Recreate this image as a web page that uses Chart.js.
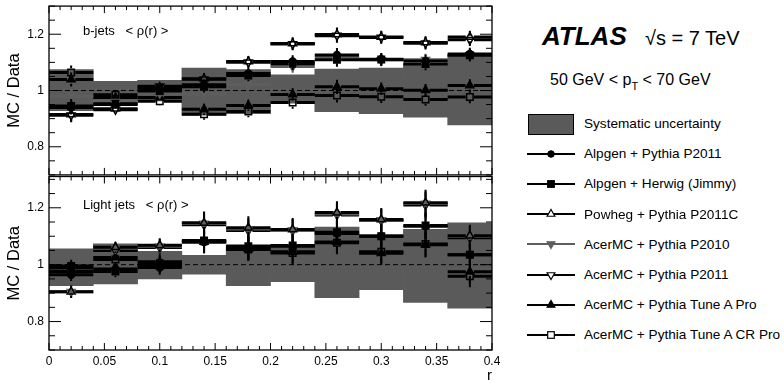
<!DOCTYPE html>
<html><head><meta charset="utf-8">
<script src="https://cdn.jsdelivr.net/npm/chart.js@4.4.1/dist/chart.umd.min.js"></script>
<style>
html,body{margin:0;padding:0;background:#fff;}
body{width:784px;height:385px;position:relative;overflow:hidden;font-family:"Liberation Sans",Arial,Helvetica,sans-serif;color:#000;}
.abs{position:absolute;white-space:pre;line-height:1;}
canvas{position:absolute;}
</style></head><body>
<canvas id="cTop" width="520" height="181" style="left:0;top:0"></canvas>
<canvas id="cBot" width="520" height="215" style="left:0;top:170px"></canvas>
<div class="abs" style="left:83px;top:24px;font-size:13px">b-jets   &lt; ρ(r) &gt;</div>
<div class="abs" style="left:83px;top:198px;font-size:13px">Light jets   &lt; ρ(r) &gt;</div>
<div class="abs" style="left:542px;top:23px;font-size:26px;font-weight:bold;font-style:italic">ATLAS</div>
<div class="abs" style="left:645px;top:28px;font-size:20px">√s = 7 TeV</div>
<div class="abs" style="left:550px;top:72px;font-size:16px">50 GeV &lt; p<span style="font-size:11px;position:relative;top:5px">T</span> &lt; 70 GeV</div>
<div id="legend"></div>
<script>
// ---------- data ----------
const rCenters = [0.02, 0.06, 0.10, 0.14, 0.18, 0.22, 0.26, 0.30, 0.34, 0.38];
const binHalfWidth = 0.02;
const xTickValues = [0, 0.05, 0.1, 0.15, 0.2, 0.25, 0.3, 0.35, 0.4];
const xTickLabels = ['0', '0.05', '0.1', '0.15', '0.2', '0.25', '0.3', '0.35', '0.4'];
const yTickValues = [0.8, 1, 1.2];
const yTickLabels = ['0.8', '1', '1.2'];

const systLabel = 'Systematic uncertainty';
const seriesNames = ['Alpgen + Pythia P2011', 'Alpgen + Herwig (Jimmy)', 'Powheg + Pythia P2011C',
  'AcerMC + Pythia P2010', 'AcerMC + Pythia P2011', 'AcerMC + Pythia Tune A Pro', 'AcerMC + Pythia Tune A CR Pro'];

// b-jets (upper panel)
const bSystLow  = [0.928, 0.965, 0.963, 0.912, 0.918, 0.955, 0.925, 0.918, 0.905, 0.878];
const bSystHigh = [1.074, 1.033, 1.036, 1.080, 1.074, 1.056, 1.076, 1.080, 1.095, 1.126];
const bAlpgenPythia = [0.940, 0.950, 1.005, 1.020, 1.060, 1.103, 1.126, 1.111, 1.105, 1.130];
const bAlpgenHerwig = [0.945, 0.953, 0.998, 1.013, 1.053, 1.095, 1.109, 1.110, 1.094, 1.125];
const bPowheg       = [0.915, 0.935, 1.012, 1.042, 1.103, 1.167, 1.199, 1.190, 1.171, 1.190];
const bAcerP2010    = [0.980, 0.960, 0.990, 0.988, 1.021, 1.085, 1.118, 1.108, 1.109, 1.126];
const bAcerP2011    = [0.912, 0.932, 1.015, 1.040, 1.100, 1.165, 1.195, 1.188, 1.168, 1.180];
const bAcerTuneA    = [1.039, 0.975, 0.975, 0.933, 0.947, 0.986, 1.013, 1.006, 1.001, 1.018];
const bAcerTuneACR  = [1.064, 0.985, 0.962, 0.916, 0.925, 0.957, 0.982, 0.978, 0.968, 0.977];
const bStatErr      = [0.025, 0.015, 0.015, 0.020, 0.020, 0.022, 0.025, 0.022, 0.022, 0.022];

// light jets (lower panel)
const lSystLow  = [0.926, 0.932, 0.950, 0.967, 0.926, 0.940, 0.884, 0.912, 0.867, 0.847];
const lSystHigh = [1.056, 1.073, 1.047, 1.033, 1.070, 1.070, 1.132, 1.106, 1.124, 1.147];
const lAlpgenPythia = [0.965, 0.985, 0.990, 1.080, 1.060, 1.065, 1.110, 1.100, 1.135, 1.035];
const lAlpgenHerwig = [0.995, 0.976, 0.996, 1.085, 1.065, 1.067, 1.114, 1.100, 1.138, 1.035];
const lPowheg       = [0.905, 1.061, 1.068, 1.147, 1.130, 1.124, 1.183, 1.159, 1.218, 1.102];
const lAcerP2010    = [0.905, 1.058, 1.065, 1.145, 1.125, 1.120, 1.178, 1.156, 1.215, 1.100];
const lAcerP2011    = [0.990, 1.050, 1.060, 1.140, 1.120, 1.120, 1.175, 1.155, 1.210, 1.095];
const lAcerTuneA    = [0.975, 1.025, 1.010, 1.080, 1.055, 1.045, 1.080, 1.040, 1.070, 0.975];
const lAcerTuneACR  = [0.978, 1.018, 1.005, 1.082, 1.053, 1.041, 1.077, 1.045, 1.073, 0.959];
const lStatErr      = [0.022, 0.020, 0.025, 0.040, 0.040, 0.040, 0.040, 0.040, 0.045, 0.038];

// ---------- styles ----------
const BAND = '#5a5a5a';
const seriesStyles = [
  {style: 'circle',   rot: 0,   r: 3.5, fill: '#000', color: '#000', hollow: false},
  {style: 'rect',     rot: 0,   r: 4.6, fill: '#000', color: '#000', hollow: false},
  {style: 'triangle', rot: 0,   r: 4.6, fill: '#fff', color: '#000', hollow: true},
  {style: 'triangle', rot: 180, r: 4.6, fill: '#5e5e5e', color: '#5e5e5e', hollow: false},
  {style: 'triangle', rot: 180, r: 4.6, fill: '#fff', color: '#000', hollow: true},
  {style: 'triangle', rot: 0,   r: 4.6, fill: '#000', color: '#000', hollow: false},
  {style: 'rect',     rot: 0,   r: 4.6, fill: '#fff', color: '#000', hollow: true}
];

Chart.defaults.font.family = '"Liberation Sans", Arial, Helvetica, sans-serif';
Chart.defaults.color = '#000';

const barsPlugin = {
  id: 'mcBars',
  beforeDatasetDraw(chart, args) {
    const ds = chart.data.datasets[args.index];
    if (!ds.statErr) return;
    const {ctx} = chart;
    const xs = chart.scales.x, ys = chart.scales.y;
    const g = ds.markerGap;
    ctx.save();
    ctx.strokeStyle = ds.barColor;
    ds.data.forEach((p, i) => {
      const x1 = xs.getPixelForValue(p.x - binHalfWidth);
      const x2 = xs.getPixelForValue(p.x + binHalfWidth);
      const xc = xs.getPixelForValue(p.x);
      const yc = ys.getPixelForValue(p.y);
      const yHi = ys.getPixelForValue(p.y + ds.statErr[i]);
      const yLo = ys.getPixelForValue(p.y - ds.statErr[i]);
      ctx.lineWidth = 3;
      ctx.beginPath();
      ctx.moveTo(x1, yc); ctx.lineTo(xc - g, yc);
      ctx.moveTo(xc + g, yc); ctx.lineTo(x2, yc);
      ctx.stroke();
      ctx.lineWidth = 2;
      ctx.beginPath();
      if (yHi < yc - g) { ctx.moveTo(xc, yHi); ctx.lineTo(xc, yc - g); }
      if (yLo > yc + g) { ctx.moveTo(xc, yc + g); ctx.lineTo(xc, yLo); }
      ctx.stroke();
    });
    ctx.restore();
  }
};

const framePlugin = {
  id: 'rootFrame',
  afterDraw(chart) {
    const {ctx, chartArea: a} = chart;
    const xs = chart.scales.x, ys = chart.scales.y;
    ctx.save();
    ctx.strokeStyle = '#000';
    ctx.lineWidth = 1;
    ctx.beginPath();
    for (let i = 0; i <= 40; i++) {
      const px = xs.getPixelForValue(i * 0.01);
      const L = (i % 5 === 0) ? 7 : 4;
      ctx.moveTo(px, a.bottom); ctx.lineTo(px, a.bottom - L);
      ctx.moveTo(px, a.top); ctx.lineTo(px, a.top + L);
    }
    for (let j = 14; j * 0.05 <= ys.max + 1e-9; j++) {
      const v = j * 0.05;
      const py = ys.getPixelForValue(v);
      const L = (j % 4 === 0) ? 12 : 6;
      ctx.moveTo(a.left, py); ctx.lineTo(a.left + L, py);
      ctx.moveTo(a.right, py); ctx.lineTo(a.right - L, py);
    }
    ctx.stroke();
    ctx.lineWidth = 1.3;
    ctx.strokeRect(a.left, a.top, a.right - a.left, a.bottom - a.top);
    ctx.restore();
  }
};

function makeChart(id, values, statErr, sLow, sHigh, yMax, padTop, showX) {
  const datasets = seriesStyles.map((st, k) => ({
    type: 'scatter',
    label: seriesNames[k],
    data: rCenters.map((x, i) => ({x: x, y: values[k][i]})),
    statErr: statErr,
    barColor: st.color,
    markerGap: st.r * 0.9,
    pointStyle: st.style,
    rotation: st.rot,
    pointRotation: st.rot,
    pointRadius: st.r,
    pointBackgroundColor: st.hollow ? 'rgba(0,0,0,0)' : st.fill,
    pointBorderColor: st.color,
    pointBorderWidth: 1.5,
    order: 1
  }));
  datasets.push({
    type: 'line', label: 'unity',
    data: [{x: 0, y: 1}, {x: 0.4, y: 1}],
    borderColor: '#000', borderWidth: 1, borderDash: [5, 3], pointRadius: 0, order: 2
  });
  datasets.push({
    type: 'bar', label: systLabel,
    data: rCenters.map((x, i) => ({x: x, y: [sLow[i], sHigh[i]]})),
    backgroundColor: BAND, borderWidth: 0, barPercentage: 1, categoryPercentage: 1, order: 3
  });
  return new Chart(document.getElementById(id), {
    type: 'scatter',
    data: {datasets},
    options: {
      responsive: false, animation: false, events: [],
      layout: {padding: {left: 0, right: 28, top: padTop, bottom: showX ? 0 : 5}},
      plugins: {legend: {display: false}, tooltip: {enabled: false}},
      scales: {
        x: {
          type: 'linear', min: 0, max: 0.4, offset: false, display: showX,
          grid: {display: false, drawTicks: false}, border: {display: false},
          afterBuildTicks: s => { s.ticks = xTickValues.map(v => ({value: v})); },
          ticks: {padding: 4, autoSkip: false, maxRotation: 0, font: {size: 12},
                  callback: (v, i) => xTickLabels[i]},
          title: {display: true, text: 'r', align: 'end', font: {size: 15}, padding: {top: 0, bottom: 0}},
          afterFit: s => { s.height = showX ? 35 : 0; s.paddingLeft = 0; s.paddingRight = 0; }
        },
        y: {
          type: 'linear', min: 0.7, max: yMax,
          grid: {display: false, drawTicks: false}, border: {display: false},
          afterBuildTicks: s => { s.ticks = yTickValues.map(v => ({value: v})); },
          ticks: {padding: 5, autoSkip: false, font: {size: 12},
                  callback: (v, i) => yTickLabels[i]},
          title: {display: true, text: 'MC / Data', font: {size: 16.5}, padding: {top: 5, bottom: 0}},
          afterFit: s => { s.width = 49; s.paddingTop = 0; s.paddingBottom = 0; }
        }
      }
    },
    plugins: [barsPlugin, framePlugin]
  });
}

makeChart('cTop',
  [bAlpgenPythia, bAlpgenHerwig, bPowheg, bAcerP2010, bAcerP2011, bAcerTuneA, bAcerTuneACR],
  bStatErr, bSystLow, bSystHigh, 1.3, 5, false);
makeChart('cBot',
  [lAlpgenPythia, lAlpgenHerwig, lPowheg, lAcerP2010, lAcerP2011, lAcerTuneA, lAcerTuneACR],
  lStatErr, lSystLow, lSystHigh, 1.31, 6.5, true);

// ---------- legend ----------
function markerSvg(st) {
  const cx = 24, cy = 8;
  let shape = '';
  if (st.style === 'circle') {
    shape = `<circle cx="${cx}" cy="${cy}" r="3.3" fill="${st.fill}" stroke="${st.color}" stroke-width="1"/>`;
  } else if (st.style === 'rect') {
    shape = `<rect x="${cx - 3.3}" y="${cy - 3.3}" width="6.6" height="6.6" fill="${st.fill}" stroke="${st.color}" stroke-width="1.2"/>`;
  } else {
    const r = 4.5, s = st.rot ? -1 : 1, h = r * Math.sin(Math.PI / 3);
    const pts = [[cx, cy - s * r], [cx + h, cy + s * r / 2], [cx - h, cy + s * r / 2]];
    shape = `<polygon points="${pts.map(p => p.join(',')).join(' ')}" fill="${st.fill}" stroke="${st.color}" stroke-width="1.2"/>`;
  }
  return `<svg width="48" height="16" style="display:block"><line x1="0" y1="8" x2="48" y2="8" stroke="${st.color}" stroke-width="2"/>${shape}</svg>`;
}
const leg = document.getElementById('legend');
const rowBase = i => 128.5 + 30.2 * i;
const FS = 13.6;
let html = `<div style="position:absolute;left:528px;top:114px;width:44px;height:19px;background:${BAND};border:1px solid #000"></div>`;
html += `<div class="abs" style="left:584px;top:${rowBase(0) - FS * 0.8465}px;font-size:${FS}px">${systLabel}</div>`;
seriesNames.forEach((n, k) => {
  const b = rowBase(k + 1);
  html += `<div style="position:absolute;left:527px;top:${b - 13}px">${markerSvg(seriesStyles[k])}</div>`;
  html += `<div class="abs" style="left:584px;top:${b - FS * 0.8465}px;font-size:${FS}px">${n}</div>`;
});
leg.innerHTML = html;
</script>
</body></html>
